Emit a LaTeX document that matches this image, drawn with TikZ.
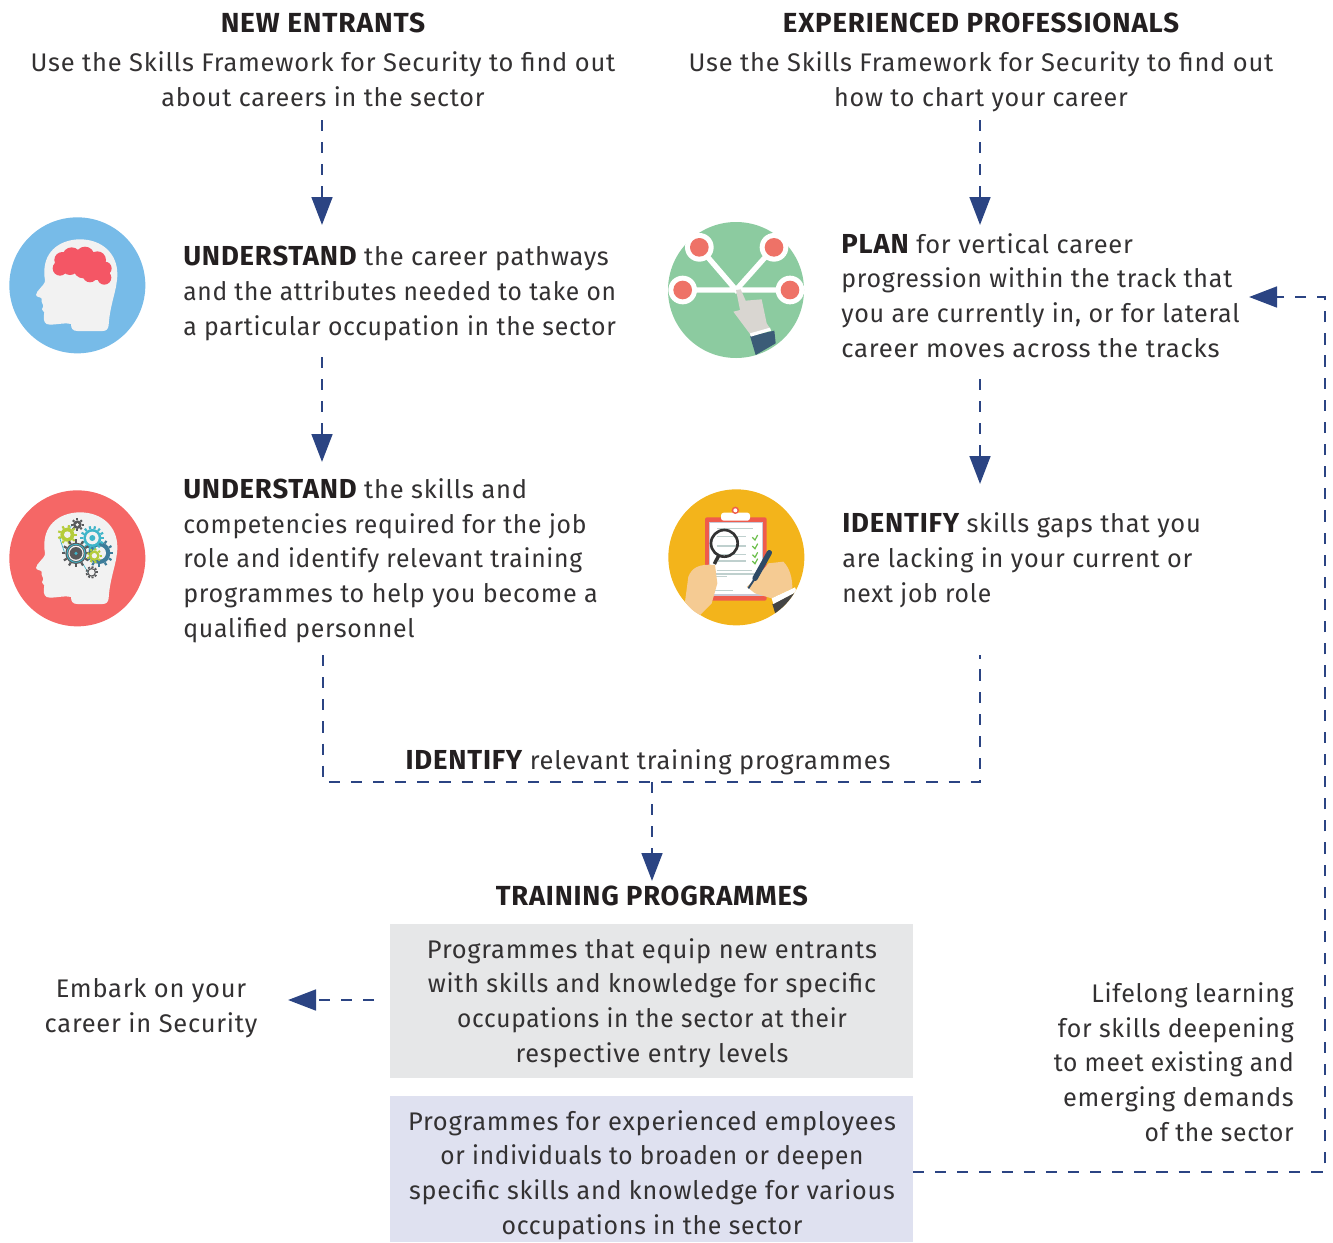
\documentclass[tikz,border=0pt]{standalone}
\usepackage{fontspec}
\usepackage{graphicx}
\usetikzlibrary{arrows.meta}
\setmainfont[LetterSpace=3]{Fira Sans}
\definecolor{navy}{HTML}{2B4483}
\definecolor{ink}{HTML}{333132}
\definecolor{inkb}{HTML}{231F20}
\definecolor{boxgrey}{HTML}{E6E7E8}
\definecolor{boxlav}{HTML}{DFE1F0}
\definecolor{headc}{HTML}{F2F2F2}
\definecolor{dkgear}{HTML}{58595B}
\definecolor{grgear}{HTML}{B5CC3A}
\definecolor{tlgear}{HTML}{3FB5C9}
\definecolor{blgear}{HTML}{3D7C9A}
\definecolor{peach}{HTML}{F5CB93}
\definecolor{lineg}{HTML}{BFD0CE}
\definecolor{skyc}{HTML}{77BBE8}
\definecolor{brainc}{HTML}{F45665}
\definecolor{coralc}{HTML}{F56766}
\definecolor{greenc}{HTML}{8CCBA0}
\definecolor{dotc}{HTML}{EE7267}
\definecolor{handc}{HTML}{D9D6D1}
\definecolor{sleevec}{HTML}{3B5C77}
\definecolor{yellowc}{HTML}{F3B41B}
\definecolor{clipc}{HTML}{EF5B4C}
\definecolor{pageb}{HTML}{C9C8D6}
\definecolor{checkc}{HTML}{6CBF4B}
\definecolor{darkc}{HTML}{333333}
\definecolor{penc}{HTML}{2E4A66}
\definecolor{suitc}{HTML}{444444}
\newcommand{\Bd}[1]{{\fontsize{20.6}{26}\selectfont\bfseries\textcolor{inkb}{#1}}}
\newcommand{\sq}[2]{\scalebox{#1}[1]{#2}}
\newcommand{\headshape}{(133,215) .. controls (133,150) and (185,118) .. (240,118) .. controls (305,118) and (352,160) .. (352,222) .. controls (352,270) and (330,310) .. (326,375) .. controls (325,388) and (318,393) .. (308,393) -- (232,393) .. controls (218,393) and (213,385) .. (213,372) .. controls (190,366) and (160,378) .. (140,372) .. controls (130,368) and (130,350) .. (133,338) -- (126,328) -- (130,318) -- (125,305) .. controls (128,298) and (125,292) .. (115,291) .. controls (106,288) and (107,282) .. (112,275) .. controls (125,258) and (137,250) .. (135,240) .. controls (133,232) and (133,225) .. (133,215) -- cycle}
\newcommand{\gearshape}[6]{% x y outer body teeth colour
  \foreach \i [evaluate=\i as \a using \i*360/#5] in {1,...,#5}{\draw[#6,line width=1.6pt] (#1,#2)+(\a:#4) -- +(\a:#3);}
  \fill[#6] (#1,#2) circle[radius=#4];}
\tikzset{
  dashln/.style={draw=navy,line width=2.1pt,dash pattern=on 8.4pt off 8.2pt},
  arrowline/.style={dashln,-{Triangle[length=21pt,width=15.5pt]}},
  body/.style={inner sep=0pt,font=\fontsize{19.1}{26}\selectfont,text=ink},
  lft/.style={body,align=left,anchor=base west},
  ctr/.style={body,align=center,anchor=base},
  rgt/.style={body,align=right,anchor=base east},
  ttl/.style={inner sep=0pt,anchor=base,font=\fontsize{20.7}{26}\selectfont\bfseries,text=inkb},
}
\begin{document}
\begin{tikzpicture}[x=0.75pt,y=-0.75pt]
\useasboundingbox (0,0) rectangle (1333,1242);
% boxes
\fill[boxgrey] (390,924) rectangle (913,1078);
\fill[boxlav] (390,1096) rectangle (913,1242);
% icon 1
\begin{scope}[shift={(0,200)},x=.25pt,y=-.25pt]
\fill[skyc] (232,256) circle[radius=204];
\fill[headc] \headshape;
\fill[brainc] (187,180) circle[radius=24] (215,170) circle[radius=28] (255,168) circle[radius=28] (292,180) circle[radius=26] (315,205) circle[radius=20] (180,205) circle[radius=22] (210,200) circle[radius=25] (250,205) circle[radius=30] (270,225) circle[radius=22] (313,233) circle[radius=21] (290,215) circle[radius=25];
\end{scope}
% icon 2
\begin{scope}[shift={(0,473)},x=.25pt,y=-.25pt]
\fill[coralc] (232,256) circle[radius=204];
\fill[headc] \headshape;
\begin{scope}[shift={(0,8)}]
\draw[tlgear,line width=.5pt] (215,150) -- (180,190) -- (195,235) (240,250) -- (270,300);
\gearshape{298}{232}{42}{33}{12}{blgear}
\fill[headc] (298,232) circle[radius=20];
\gearshape{277}{187}{36}{27}{14}{tlgear}
\fill[headc] (277,187) circle[radius=19];
\fill[tlgear] (277,187) circle[radius=9];
\gearshape{232}{147}{19}{13}{8}{dkgear}
\fill[headc] (232,147) circle[radius=5];
\gearshape{202}{177}{29}{21}{9}{grgear}
\fill[headc] (202,177) circle[radius=10];
\gearshape{228}{233}{42}{32}{12}{dkgear}
\fill[headc] (228,233) circle[radius=23];
\fill[dkgear] (228,233) circle[radius=19];
\draw[tlgear,line width=.7pt] (228,233) circle[radius=27];
\fill[tlgear] (228,233) circle[radius=5];
\gearshape{283}{240}{22}{16}{9}{grgear}
\fill[headc] (283,240) circle[radius=8];
\gearshape{275}{290}{18}{13}{9}{dkgear}
\fill[headc] (275,290) circle[radius=9];
\end{scope}
\end{scope}
% icon 3
\begin{scope}[shift={(655,210)},x=.25pt,y=-.25pt]
\fill[greenc] (243,240) circle[radius=204];
\draw[white,line width=4pt] (133,112) -- (243,240) -- (357,112) (83,240) -- (405,240);
\fill[white] (133,112) circle[radius=43] (357,112) circle[radius=43] (83,240) circle[radius=43] (405,240) circle[radius=43];
\fill[dotc] (133,112) circle[radius=28] (357,112) circle[radius=28] (83,240) circle[radius=28] (405,240) circle[radius=28];
\fill[handc] (243,240) -- (257,238) -- (272,272) -- (320,268) -- (335,340) -- (345,355) -- (285,372) -- (235,305) -- (255,300) -- cycle;
\fill[sleevec] (285,378) -- (358,362) -- (362,400) -- (302,435) -- cycle;
\fill[white] (285,370) -- (345,353) -- (348,362) -- (287,380) -- cycle;
\end{scope}
% icon 4
\begin{scope}[shift={(655,480)},x=.25pt,y=-.25pt]
\fill[yellowc] (244,232) circle[radius=204];
\fill[clipc,rounded corners=1.5pt] (150,112) rectangle (335,362);
\fill[white] (163,128) rectangle (323,345);
\draw[pageb,line width=.8pt] (163,128) rectangle (323,345);
\fill[white,rounded corners=2pt] (198,122) rectangle (285,98);
\fill[clipc] (241,91) circle[radius=11];
\fill[white] (241,91) circle[radius=6];
\draw[lineg,line width=.8pt] (187,145) -- (294,145) (185,170) -- (272,170) (185,198) -- (272,198) (185,223) -- (272,223) (190,243) -- (272,243) (185,272) -- (290,272) (180,283) -- (320,283) (180,290) -- (215,290) (180,331) -- (235,331);
\draw[lineg,line width=1.6pt] (180,283) -- (320,283);
\draw[checkc,line width=.9pt] (292,172) -- (300,180) -- (308,165) (292,198) -- (300,206) -- (308,191) (292,224) -- (300,232) -- (308,217) (292,243) -- (300,251) -- (308,236);
\draw[darkc,line width=2.6pt] (178,252) -- (192,225);
\draw[darkc,line width=2pt] (208,190) circle[radius=40];
\fill[peach] (90,365) -- (100,290) .. controls (110,265) and (130,250) .. (180,255) -- (187,310) -- (170,370) -- (135,405) .. controls (115,395) and (100,380) .. (90,365) -- cycle;
\fill[peach] (300,300) -- (340,250) -- (385,245) .. controls (405,265) and (412,295) .. (412,325) -- (350,355) -- (300,340) -- (275,320) -- cycle;
\draw[penc,line width=4pt,line cap=round] (343,218) -- (300,295);
\draw[penc,line width=1.4pt] (300,295) -- (280,325);
\begin{scope}
\clip (244,232) circle[radius=204];
\fill[suitc] (352,372) -- (425,335) -- (395,385) -- (362,405) -- cycle;
\fill[white] (350,355) -- (420,322) -- (425,335) -- (355,372) -- cycle;
\end{scope}
\end{scope}
% texts
\node[ttl] (newent) at (323,32) {\sq{1.02}{NEW ENTRANTS}};
\node[ttl] (expro) at (981,32) {EXPERIENCED PROFESSIONALS};
\node[ctr] (newdesc) at (323,106) {Use the Skills Framework for Security to find out\\\sq{.988}{about careers in the sector}};
\node[ctr] (expdesc) at (981,106) {Use the Skills Framework for Security to find out\\\sq{.987}{how to chart your career}};
\node[lft] (und1) at (183,335) {\Bd{UNDERSTAND} the career pathways\\\sq{.965}{and the attributes needed to take on}\\\sq{.975}{a particular occupation in the sector}};
\node[lft] (und2) at (183,637) {\Bd{UNDERSTAND} the skills and\\\sq{.972}{competencies required for the job}\\\sq{.97}{role and identify relevant training}\\\sq{.988}{programmes to help you become a}\\\sq{.975}{qualified personnel}};
\node[lft] (plan) at (841,357) {\Bd{PLAN} for vertical career\\\sq{.982}{progression within the track that}\\\sq{.985}{you are currently in, or for lateral}\\\sq{1.012}{career moves across the tracks}};
\node[lft] (ident) at (842,602) {\Bd{IDENTIFY} skills gaps that you\\\sq{.992}{are lacking in your current or}\\\sq{.97}{next job role}};
\node[ctr] (relev) at (648,769) {\Bd{IDENTIFY} relevant training programmes};
\node[ttl] (train) at (652,905) {\sq{.987}{TRAINING PROGRAMMES}};
\node[ctr] (boxa) at (652,1062) {Programmes that equip new entrants\\\sq{.987}{with skills and knowledge for specific}\\\sq{.963}{occupations in the sector at their}\\\sq{.993}{respective entry levels}};
\node[ctr] (boxb) at (652,1234) {Programmes for experienced employees\\\sq{.962}{or individuals to broaden or deepen}\\\sq{.988}{specific skills and knowledge for various}\\\sq{.977}{occupations in the sector}};
\node[ctr] (embark) at (151,1032) {Embark on your\\career in Security};
\node[rgt] (life) at (1294,1141) {\sq{.985}{Lifelong learning}\\\sq{.98}{for skills deepening}\\\sq{.965}{to meet existing and}\\\sq{.995}{emerging demands}\\\sq{.968}{of the sector}};
% connector ends
\coordinate (a1s) at (322,120); \coordinate (a1e) at (322,225);
\coordinate (a2s) at (322,357); \coordinate (a2e) at (322,462);
\coordinate (b1s) at (980,120); \coordinate (b1e) at (980,225);
\coordinate (b2s) at (980,379); \coordinate (b2e) at (980,484);
\coordinate (c1) at (323,655); \coordinate (c2) at (323,782);
\coordinate (d1) at (980,655); \coordinate (d2) at (980,782);
\coordinate (m1) at (652,782); \coordinate (m2) at (652,881);
\coordinate (l1) at (374,1000); \coordinate (l2) at (288,1000);
\coordinate (f1) at (913,1172); \coordinate (f2) at (1325,1172); \coordinate (f3) at (1325,297); \coordinate (f4) at (1249,297);
\draw[arrowline] (a1s) -- (a1e);
\draw[arrowline] (a2s) -- (a2e);
\draw[arrowline] (b1s) -- (b1e);
\draw[arrowline] (b2s) -- (b2e);
\draw[dashln] (c1) -- (c2) -- (d2) -- (d1);
\draw[arrowline] (m1) -- (m2);
\draw[arrowline] (l1) -- (l2);
\draw[arrowline] (f1) -- (f2) -- (f3) -- (f4);
\end{tikzpicture}
\end{document}
